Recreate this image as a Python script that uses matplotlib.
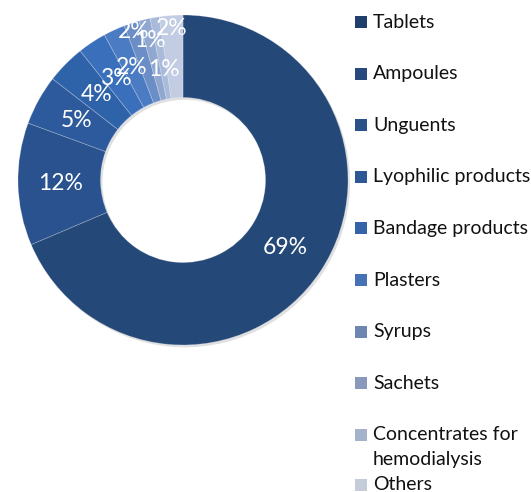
import matplotlib.pyplot as plt
from matplotlib.patches import Rectangle
import numpy as np

categories = ['Tablets', 'Ampoules', 'Unguents', 'Lyophilic products', 'Bandage products',
              'Plasters', 'Syrups', 'Sachets', 'Concentrates for\nhemodialysis', 'Others']
shares = [68.6, 12.0, 4.9, 3.8, 2.8, 2.1, 1.5, 1.1, 0.9, 2.3]
colors = ['#244877', '#29528e', '#2c5a9c', '#2f63a9', '#3a6fbb', '#4b7cc3',
          '#6b8ec7', '#90a7d0', '#a9badb', '#c2cce2']
legend_colors = ['#213f6c', '#27497d', '#2a5189', '#2d5895', '#3463a9', '#4671b3',
                 '#6d86b0', '#8899bb', '#a4b2cc', '#c4cbd9']
# radial position of each percentage label (Excel nudges the small ones apart)
label_r = [0.74, 0.74, 0.74, 0.74, 0.74, 0.75, 0.95, 0.87, 0.68, 0.92]

plt.rcParams['font.family'] = ['Lato', 'DejaVu Sans']

fig = plt.figure(figsize=(5.31, 4.92), dpi=100)
W, H = 531, 492
cx, cy, R = 183, 180, 165
ax = fig.add_axes([(cx - R) / W, (H - cy - R) / H, 2 * R / W, 2 * R / H])
ax.set_aspect('equal')
ax.axis('off')

# soft shadow
ax.pie(shares, radius=1.0, startangle=90, counterclock=False, center=(0.012, -0.014),
       colors=['#000000'] * len(shares), wedgeprops=dict(width=0.5, alpha=0.12, linewidth=0))
wedges, _ = ax.pie(shares, radius=1.0, startangle=90, counterclock=False, colors=colors,
                   wedgeprops=dict(width=0.5, edgecolor=(1, 1, 1, 0.25), linewidth=0.6))
ax.set_xlim(-1, 1)
ax.set_ylim(-1, 1)

total = sum(shares)
cum = np.cumsum([0] + shares)
for i, v in enumerate(shares):
    mid = 90 - 360 * (cum[i] + v / 2) / total
    a = np.deg2rad(mid)
    ax.text(label_r[i] * np.cos(a), label_r[i] * np.sin(a), f'{round(v)}%',
            ha='center', va='center', color='white', fontsize=16.5)

# legend
y0, step = 22, 51.6
for i, name in enumerate(categories):
    y = y0 + i * step
    if i == len(categories) - 1:
        y = 485
    fig.patches.append(Rectangle((355 / W, 1 - (y + 6) / H), 12 / W, 12 / H,
                                 transform=fig.transFigure, facecolor=legend_colors[i],
                                 edgecolor='none'))
    lines = name.split('\n')
    for j, ln in enumerate(lines):
        fig.text(373 / W, 1 - (y + j * 25) / H, ln, ha='left', va='center',
                 fontsize=14, color='#111111')

fig.savefig('out.png', dpi=100)
